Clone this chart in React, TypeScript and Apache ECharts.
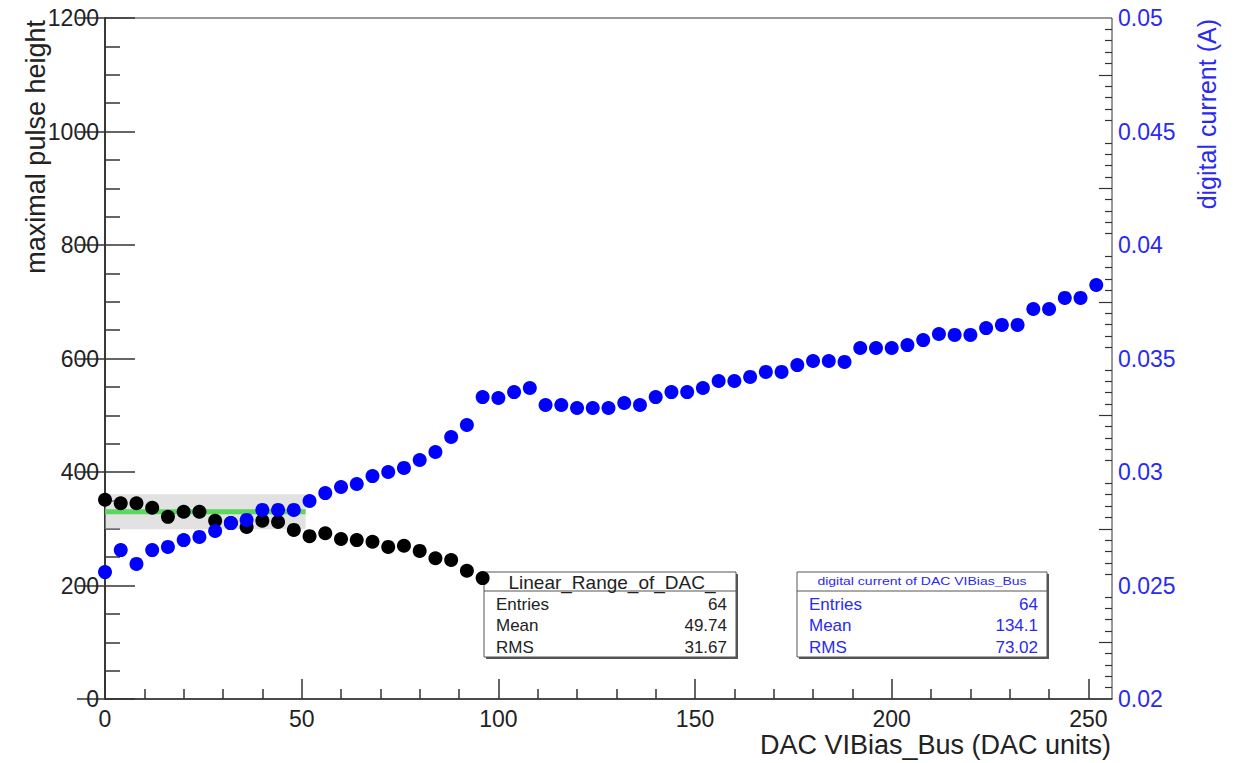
import React, { useEffect, useRef } from "react";
import * as echarts from "echarts";

// DAC settings scanned (x axis)
const dacValues = [
  0, 4, 8, 12, 16, 20, 24, 28, 32, 36, 40, 44, 48, 52, 56, 60, 64, 68, 72, 76,
  80, 84, 88, 92, 96, 100, 104, 108, 112, 116, 120, 124, 128, 132, 136, 140,
  144, 148, 152, 156, 160, 164, 168, 172, 176, 180, 184, 188, 192, 196, 200,
  204, 208, 212, 216, 220, 224, 228, 232, 236, 240, 244, 248, 252,
];

// maximal pulse height per DAC setting (left axis)
const pulseHeight = [
  351, 345, 345, 337, 321, 330, 330, 314, 310, 303, 314, 312, 298, 287, 292,
  282, 280, 277, 268, 270, 261, 248, 245, 226, 213,
];

// digital current in A per DAC setting (right axis)
const digitalCurrent = [
  0.02559, 0.02656, 0.02595, 0.02656, 0.0267, 0.027, 0.02714, 0.0274, 0.02775,
  0.02789, 0.02833, 0.02833, 0.02833, 0.02872, 0.02907, 0.02934, 0.02947,
  0.02982, 0.03, 0.03018, 0.03053, 0.03088, 0.03154, 0.03207, 0.0333, 0.03326,
  0.03352, 0.0337, 0.03295, 0.03295, 0.03282, 0.03282, 0.03282, 0.03304,
  0.03295, 0.0333, 0.03352, 0.03352, 0.0337, 0.03401, 0.03401, 0.03419,
  0.03441, 0.03441, 0.03471, 0.03489, 0.03489, 0.03485, 0.03546, 0.03546,
  0.03546, 0.03559, 0.03581, 0.03608, 0.03604, 0.03604, 0.03634, 0.03648,
  0.03648, 0.03718, 0.03718, 0.03767, 0.03767, 0.03824,
];

// constant fit over the linear range, with its error band
const fitRange = [0, 51];
const fitLevel = 330;
const fitBand = [299, 361];

// axis ticks
const xMajorTicks = [0, 50, 100, 150, 200, 250];
const xMinorTicks = [
  10, 20, 30, 40, 60, 70, 80, 90, 110, 120, 130, 140, 160, 170, 180, 190, 210,
  220, 230, 240,
];
const rightMajorTicks = [0.02, 0.025, 0.03, 0.035, 0.04, 0.045, 0.05];
const rightMidTicks = [0.0225, 0.0275, 0.0325, 0.0375, 0.0425, 0.0475];
const rightMinorTicks = [
  0.0205, 0.021, 0.0215, 0.022, 0.023, 0.0235, 0.024, 0.0245,
  0.0255, 0.026, 0.0265, 0.027, 0.028, 0.0285, 0.029, 0.0295,
  0.0305, 0.031, 0.0315, 0.032, 0.033, 0.0335, 0.034, 0.0345,
  0.0355, 0.036, 0.0365, 0.037, 0.038, 0.0385, 0.039, 0.0395,
  0.0405, 0.041, 0.0415, 0.042, 0.043, 0.0435, 0.044, 0.0445,
  0.0455, 0.046, 0.0465, 0.047, 0.048, 0.0485, 0.049, 0.0495,
];

// statistics boxes
const statLabels = ["Entries", "Mean", "RMS"];
const pulseStats = ["64", "49.74", "31.67"];
const currentStats = ["64", "134.1", "73.02"];

const FONT = "Liberation Sans, Arial, Helvetica, sans-serif";
const INK = "#222";
const AXIS = "#333";
const BLUE = "#0000ff";
const BLUE_TEXT = "#2a2af0";

function statsBox(
  left: number,
  top: number,
  right: number,
  bottom: number,
  title: any,
  values: string[],
  color: string
) {
  const w = right - left;
  const h = bottom - top;
  const children: any[] = [
    { type: "rect", shape: { x: left + 2, y: top + 2, width: w, height: h }, style: { fill: "#555" } },
    { type: "rect", shape: { x: left, y: top, width: w, height: h }, style: { fill: "#fff", stroke: "#555", lineWidth: 1 } },
    { type: "line", shape: { x1: left, y1: top + 19, x2: right, y2: top + 19 }, style: { stroke: "#555", lineWidth: 1 } },
    title,
  ];
  statLabels.forEach((lab, i) => {
    const y = top + 32 + i * 21.5;
    children.push({
      type: "text",
      x: left + 12,
      y,
      style: { text: lab, fontSize: 17, fontFamily: FONT, fill: color, align: "left", verticalAlign: "middle" },
    });
    children.push({
      type: "text",
      x: right - 9,
      y,
      style: { text: values[i], fontSize: 17, fontFamily: FONT, fill: color, align: "right", verticalAlign: "middle" },
    });
  });
  return { type: "group", z: 100, children };
}

// right-hand axis that only carries one family of tick marks
function rightTickAxis(values: number[], length: number) {
  return {
    type: "value",
    min: 0.02,
    max: 0.05,
    position: "right",
    axisLine: { show: false },
    axisTick: { show: true, inside: true, length, customValues: values, lineStyle: { color: AXIS, width: 1.2 } },
    axisLabel: { show: false },
    splitLine: { show: false },
  };
}

export default function App() {
  const ref = useRef<HTMLDivElement>(null);

  useEffect(() => {
    if (!ref.current) return;
    const chart = echarts.init(ref.current, undefined, { renderer: "svg" });

    const option: any = {
      animation: false,
      backgroundColor: "#fff",
      grid: {
        left: 105,
        right: 124,
        top: 18,
        bottom: 64,
        show: true,
        borderColor: AXIS,
        borderWidth: 1,
        backgroundColor: "transparent",
      },
      xAxis: [
        {
          type: "value",
          min: 0,
          max: 256,
          position: "bottom",
          axisLine: { show: true, lineStyle: { color: AXIS, width: 1.5 } },
          axisTick: { show: true, inside: true, length: 20, customValues: xMajorTicks, lineStyle: { color: AXIS, width: 1.5 } },
          axisLabel: { customValues: xMajorTicks, fontSize: 23, fontFamily: FONT, color: INK, margin: 8 },
          splitLine: { show: false },
        },
        {
          type: "value",
          min: 0,
          max: 256,
          position: "bottom",
          axisLine: { show: false },
          axisTick: { show: true, inside: true, length: 10, customValues: xMinorTicks, lineStyle: { color: AXIS, width: 1.5 } },
          axisLabel: { show: false },
          splitLine: { show: false },
        },
      ],
      yAxis: [
        {
          type: "value",
          min: 0,
          max: 1200,
          interval: 200,
          position: "left",
          axisLine: { show: true, lineStyle: { color: AXIS, width: 1.5 } },
          axisTick: { show: true, inside: true, length: 30, lineStyle: { color: AXIS, width: 1.5 } },
          minorTick: { show: true, splitNumber: 4, length: 15, lineStyle: { color: AXIS, width: 1.5 } },
          axisLabel: {
            fontSize: 23,
            fontFamily: FONT,
            color: INK,
            margin: 6,
            formatter: (v: number) => String(v),
          },
          splitLine: { show: false },
          minorSplitLine: { show: false },
        },
        {
          type: "value",
          min: 0.02,
          max: 0.05,
          position: "right",
          axisLine: { show: true, lineStyle: { color: AXIS, width: 1.5 } },
          axisTick: { show: true, inside: true, length: 28, customValues: rightMajorTicks, lineStyle: { color: AXIS, width: 1.5 } },
          axisLabel: {
            customValues: rightMajorTicks,
            fontSize: 23,
            fontFamily: FONT,
            color: BLUE_TEXT,
            margin: 6,
            formatter: (v: number) => String(parseFloat(v.toFixed(4))),
          },
          splitLine: { show: false },
        },
        rightTickAxis(rightMidTicks, 13),
        rightTickAxis(rightMinorTicks, 7),
      ],
      series: [
        {
          name: "fit",
          type: "line",
          xAxisIndex: 0,
          yAxisIndex: 0,
          z: 2,
          showSymbol: false,
          symbol: "none",
          data: [
            [fitRange[0], fitLevel],
            [fitRange[1], fitLevel],
          ],
          lineStyle: { color: "#5cd65c", width: 5 },
          markArea: {
            silent: true,
            itemStyle: { color: "rgba(190,190,190,0.45)" },
            data: [[{ coord: [fitRange[0], fitBand[0]] }, { coord: [fitRange[1], fitBand[1]] }]],
          },
        },
        {
          name: "Linear_Range_of_DAC_",
          type: "scatter",
          xAxisIndex: 0,
          yAxisIndex: 0,
          z: 3,
          symbol: "circle",
          symbolSize: 14,
          itemStyle: { color: "#000", opacity: 1 },
          data: pulseHeight.map((v, i) => [dacValues[i], v]),
        },
        {
          name: "digital current of DAC VIBias_Bus",
          type: "scatter",
          xAxisIndex: 0,
          yAxisIndex: 1,
          z: 4,
          symbol: "circle",
          symbolSize: 14,
          itemStyle: { color: BLUE, opacity: 1 },
          data: digitalCurrent.map((v, i) => [dacValues[i], v]),
        },
      ],
      graphic: [
        {
          type: "text",
          z: 100,
          x: 36,
          y: 20,
          rotation: Math.PI / 2,
          style: { text: "maximal pulse height", fontSize: 27, fontFamily: FONT, fill: INK, align: "right", verticalAlign: "middle" },
        },
        {
          type: "text",
          z: 100,
          x: 1207,
          y: 19,
          rotation: Math.PI / 2,
          style: { text: "digital current (A)", fontSize: 25, fontFamily: FONT, fill: BLUE_TEXT, align: "right", verticalAlign: "middle" },
        },
        {
          type: "text",
          z: 100,
          x: 1111,
          y: 745,
          style: { text: "DAC VIBias_Bus (DAC units)", fontSize: 27, fontFamily: FONT, fill: INK, align: "right", verticalAlign: "middle" },
        },
        statsBox(
          484,
          572,
          736,
          657,
          {
            type: "text",
            x: 612,
            y: 582,
            style: { text: "Linear_Range_of_DAC_", fontSize: 19, fontFamily: FONT, fill: INK, align: "center", verticalAlign: "middle" },
          },
          pulseStats,
          INK
        ),
        statsBox(
          797,
          572,
          1047,
          657,
          {
            type: "text",
            x: 922,
            y: 582,
            scaleX: 1.4,
            style: { text: "digital current of DAC VIBias_Bus", fontSize: 10, fontFamily: FONT, fill: BLUE_TEXT, align: "center", verticalAlign: "middle" },
          },
          currentStats,
          BLUE_TEXT
        ),
      ],
    };

    chart.setOption(option);
    return () => chart.dispose();
  }, []);

  return (
    <div
      ref={ref}
      style={{ position: "absolute", left: 0, top: 0, width: 1236, height: 763, background: "#fff" }}
    />
  );
}
